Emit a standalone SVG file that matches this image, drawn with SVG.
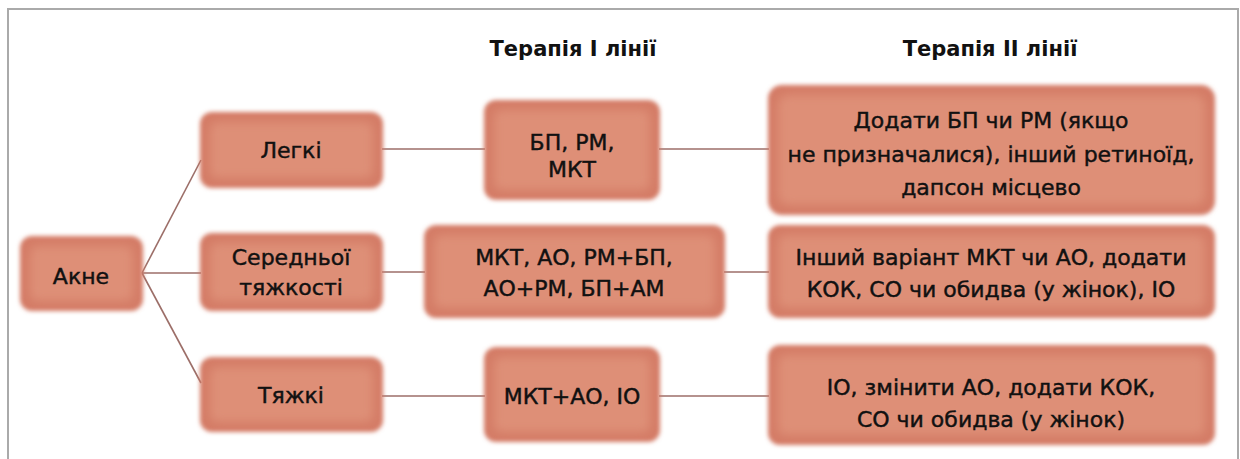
<svg xmlns="http://www.w3.org/2000/svg" width="1240" height="459" viewBox="0 0 1240 459">
<defs>
<filter id="soft" x="-10%" y="-10%" width="120%" height="120%">
<feGaussianBlur stdDeviation="2.2"/>
</filter>
<filter id="inner" x="-10%" y="-10%" width="120%" height="120%">
<feGaussianBlur stdDeviation="5"/>
</filter>
<style>
.box{fill:#d47c66;filter:url(#soft);}
.core{fill:#de8f77;filter:url(#inner);}
.t{font-family:"DejaVu Sans","Liberation Sans",sans-serif;font-size:22px;fill:#111;stroke:#111;stroke-width:0.45;text-anchor:middle;}
.h{font-family:"DejaVu Sans","Liberation Sans",sans-serif;font-size:21px;font-weight:bold;fill:#111;text-anchor:middle;}
.c{stroke:#9c6e68;stroke-width:1.6;fill:none;}
</style>
</defs>
<rect x="8" y="9" width="1230" height="480" fill="#fff" stroke="#aaa" stroke-width="2"/>
<text class="h" x="573" y="56">Терапія І лінії</text>
<text class="h" x="990" y="56">Терапія ІІ лінії</text>
<g id="connectors">
<line class="c" x1="142" y1="273" x2="201" y2="160"/>
<line class="c" x1="142" y1="273" x2="201" y2="273"/>
<line class="c" x1="142" y1="273" x2="201" y2="383"/>
<line class="c" x1="382" y1="149" x2="485" y2="149"/>
<line class="c" x1="382" y1="272" x2="425" y2="272"/>
<line class="c" x1="382" y1="396" x2="485" y2="396"/>
<line class="c" x1="659" y1="149" x2="769" y2="149"/>
<line class="c" x1="724" y1="272" x2="769" y2="272"/>
<line class="c" x1="659" y1="396" x2="769" y2="396"/>
</g>
<g id="n-akne">
<rect class="box" x="20" y="236" width="123" height="75" rx="12"/>
<rect class="core" x="30" y="246" width="103" height="55" rx="8"/>
<text class="t" x="81" y="284">Акне</text>
</g>
<g id="n-legki">
<rect class="box" x="200" y="112" width="183" height="76" rx="12"/>
<rect class="core" x="210" y="122" width="163" height="56" rx="8"/>
<text class="t" x="291" y="158">Легкі</text>
</g>
<g id="n-seredn">
<rect class="box" x="200" y="233" width="183" height="78" rx="12"/>
<rect class="core" x="210" y="243" width="163" height="58" rx="8"/>
<text class="t" x="291" y="265">Середньої</text>
<text class="t" x="291" y="295">тяжкості</text>
</g>
<g id="n-tyazhki">
<rect class="box" x="200" y="357" width="183" height="75" rx="12"/>
<rect class="core" x="210" y="367" width="163" height="55" rx="8"/>
<text class="t" x="291" y="403">Тяжкі</text>
</g>
<g id="n-l1a">
<rect class="box" x="484" y="100" width="176" height="100" rx="12"/>
<rect class="core" x="494" y="110" width="156" height="80" rx="8"/>
<text class="t" x="572" y="150">БП, РМ,</text>
<text class="t" x="572" y="177">МКТ</text>
</g>
<g id="n-l1b">
<rect class="box" x="424" y="225" width="301" height="93" rx="12"/>
<rect class="core" x="434" y="235" width="281" height="73" rx="8"/>
<text class="t" x="574" y="265">МКТ, АО, РМ+БП,</text>
<text class="t" x="574" y="296">АО+РМ, БП+АМ</text>
</g>
<g id="n-l1c">
<rect class="box" x="484" y="347" width="176" height="95" rx="12"/>
<rect class="core" x="494" y="357" width="156" height="75" rx="8"/>
<text class="t" x="572" y="404">МКТ+АО, ІО</text>
</g>
<g id="n-l2a">
<rect class="box" x="768" y="85" width="447" height="130" rx="14"/>
<rect class="core" x="778" y="95" width="427" height="110" rx="10"/>
<text class="t" x="991" y="128">Додати БП чи РМ (якщо</text>
<text class="t" x="991" y="162">не призначалися), інший ретиноїд,</text>
<text class="t" x="991" y="195">дапсон місцево</text>
</g>
<g id="n-l2b">
<rect class="box" x="768" y="225" width="447" height="93" rx="12"/>
<rect class="core" x="778" y="235" width="427" height="73" rx="8"/>
<text class="t" x="991" y="265">Інший варіант МКТ чи АО, додати</text>
<text class="t" x="991" y="297">КОК, СО чи обидва (у жінок), ІО</text>
</g>
<g id="n-l2c">
<rect class="box" x="768" y="345" width="447" height="100" rx="12"/>
<rect class="core" x="778" y="355" width="427" height="80" rx="8"/>
<text class="t" x="991" y="395">ІО, змінити АО, додати КОК,</text>
<text class="t" x="991" y="427">СО чи обидва (у жінок)</text>
</g>
</svg>
